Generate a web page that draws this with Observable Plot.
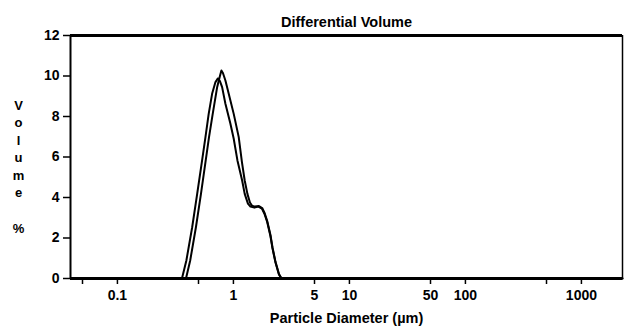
<!DOCTYPE html>
<html><head><meta charset="utf-8">
<script src="https://cdn.jsdelivr.net/npm/d3@7"></script>
<script src="https://cdn.jsdelivr.net/npm/@observablehq/plot@0.6"></script>
<style>html,body{margin:0;padding:0;background:#fff}svg{display:block}</style>
</head><body><div id="chart"></div>
<script>
// Run 1 (left, lower peak)
const run1Diameter = [0.04,0.360,0.393,0.441,0.487,0.537,0.574,0.612,0.655,0.700,0.735,0.765,0.799,0.853,0.942,1.006,1.083,1.189,1.251,1.334,1.402,1.517,1.643,1.761,1.850,1.952,2.085,2.169,2.302,2.467,2.593,2260];
const run1Volume   = [0,0,0.89,2.53,4.18,5.83,6.98,8.13,9.12,9.70,9.88,9.75,9.45,8.63,7.64,6.90,5.83,4.84,4.18,3.70,3.55,3.50,3.55,3.45,3.20,2.80,2.10,1.50,0.80,0.20,0,0];
// Run 2 (right, higher peak)
const run2Diameter = [0.04,0.390,0.424,0.475,0.525,0.577,0.616,0.663,0.724,0.765,0.788,0.812,0.853,0.911,1.006,1.111,1.184,1.251,1.320,1.388,1.444,1.530,1.660,1.770,1.860,1.960,2.090,2.175,2.305,2.470,2.600,2260];
const run2Volume   = [0,0,0.89,2.53,4.18,5.83,6.98,8.13,9.45,10.00,10.27,10.15,9.78,9.12,8.13,6.98,5.75,4.84,4.18,3.75,3.60,3.55,3.58,3.48,3.22,2.82,2.12,1.52,0.82,0.22,0,0];

const xDomain = [0.0394, 2260];
const yDomain = [0, 12];
const xTicks = [0.05,0.1,0.5,1,5,10,50,100,500,1000];
const xTickLabels = [0.1,1,5,10,50,100,1000];
const yTicks = [0,2,4,6,8,10,12];
const titleText = "Differential Volume";
const xLabelText = "Particle Diameter (µm)";
const yLabelText = "V\no\nl\nu\nm\ne\n\n%";

const run1 = run1Diameter.map((d,i) => ({d, v: run1Volume[i]}));
const run2 = run2Diameter.map((d,i) => ({d, v: run2Volume[i]}));

const font = "'Liberation Sans', Arial, sans-serif";

const chart = Plot.plot({
  width: 624, height: 328,
  marginLeft: 70, marginRight: 2, marginTop: 35, marginBottom: 50,
  style: {fontFamily: font, fontSize: "14px", fontWeight: "bold", color: "#000", background: "#fff"},
  x: {type: "log", domain: xDomain},
  y: {domain: yDomain},
  marks: [
    Plot.axisX({ticks: xTicks, tickSize: 6, tickFormat: () => "", label: null, strokeWidth: 1.5}),
    Plot.text(xTickLabels, {x: d => d, text: d => String(d), frameAnchor: "bottom", lineAnchor: "top", dy: 12, fontSize: 14, fontWeight: "bold"}),
    Plot.axisY({ticks: yTicks, tickSize: 7, tickPadding: 4, label: null, strokeWidth: 1.5, fontSize: 14}),
    Plot.ruleY([yDomain[1]], {stroke: "#000", strokeWidth: 3}),
    Plot.ruleX([xDomain[1]], {stroke: "#000", strokeWidth: 1.5}),
    Plot.ruleX([xDomain[0]], {stroke: "#000", strokeWidth: 2}),
    Plot.line(run1, {x: "d", y: "v", stroke: "#000", strokeWidth: 2, strokeLinejoin: "round"}),
    Plot.line(run2, {x: "d", y: "v", stroke: "#000", strokeWidth: 2, strokeLinejoin: "round"}),
    Plot.ruleY([yDomain[0]], {stroke: "#000", strokeWidth: 3}),
    Plot.text([titleText], {frameAnchor: "top", dy: -19, fontSize: 14.5, fontWeight: "bold", textAnchor: "middle"}),
    Plot.text([xLabelText], {frameAnchor: "bottom", dy: 44, fontSize: 14.5, fontWeight: "bold", textAnchor: "middle"}),
    Plot.text([yLabelText], {frameAnchor: "left", dx: -52, dy: 8.5, fontSize: 13, fontWeight: "bold", textAnchor: "middle", lineHeight: 1.35})
  ]
});
document.getElementById("chart").appendChild(chart);
</script>
</body></html>
